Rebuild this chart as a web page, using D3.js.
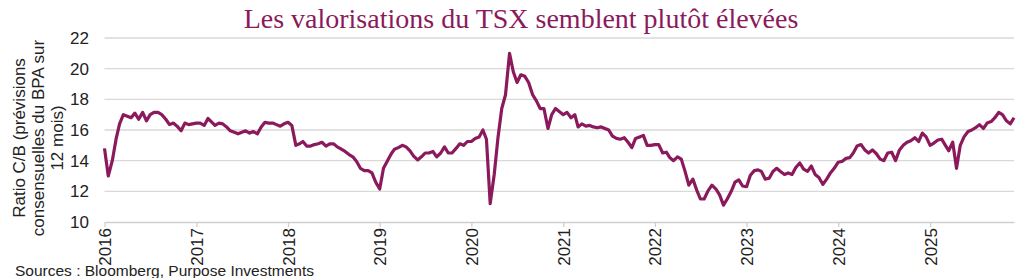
<!DOCTYPE html>
<html>
<head>
<meta charset="utf-8">
<script src="https://cdn.jsdelivr.net/npm/d3@7"></script>
<style>
  body { margin: 0; background: #fff; }
  svg { display: block; }
</style>
</head>
<body>
<div id="chart"></div>
<script>
// Texts
const title = "Les valorisations du TSX semblent plutôt élevées";
const yTitleLines = ["Ratio C/B (prévisions", "consensuelles du BPA sur", "12 mois)"];
const source = "Sources : Bloomberg, Purpose Investments";

// Axis ticks
const years = [2016, 2017, 2018, 2019, 2020, 2021, 2022, 2023, 2024, 2025];
const yTicks = [10, 12, 14, 16, 18, 20, 22];

// P/E ratio, read twice a month (1st and 16th) from the picture
const pe2016 = [14.8, 13.0, 14.0, 15.4, 16.4, 17.0, 16.9, 16.8, 17.1, 16.7, 17.15, 16.6, 17.0, 17.15, 17.15, 17.0, 16.7, 16.35, 16.45, 16.25, 15.95, 16.45, 16.35, 16.4];
const pe2017 = [16.45, 16.45, 16.3, 16.75, 16.55, 16.3, 16.45, 16.4, 16.2, 15.95, 15.85, 15.75, 15.85, 15.95, 15.8, 15.9, 15.75, 16.2, 16.5, 16.45, 16.45, 16.35, 16.25, 16.4];
const pe2018 = [16.5, 16.3, 15.0, 15.1, 15.25, 14.95, 14.95, 15.05, 15.1, 15.2, 14.95, 15.1, 15.1, 14.9, 14.75, 14.6, 14.4, 14.25, 13.95, 13.5, 13.35, 13.35, 13.2, 12.6];
const pe2019 = [12.15, 13.5, 14.0, 14.45, 14.75, 14.85, 15.0, 14.9, 14.65, 14.3, 14.05, 14.25, 14.5, 14.5, 14.6, 14.25, 14.5, 14.9, 14.5, 14.5, 14.8, 15.1, 15.0, 15.25];
const pe2020 = [15.25, 15.45, 15.55, 16.0, 15.4, 11.2, 13.1, 15.5, 17.4, 18.3, 21.0, 19.8, 19.1, 19.6, 19.5, 19.1, 18.3, 17.9, 17.4, 17.4, 16.1, 17.0, 17.4, 17.2];
const pe2021 = [17.0, 17.15, 16.8, 17.0, 16.2, 16.4, 16.25, 16.3, 16.2, 16.15, 16.2, 16.1, 16.0, 15.6, 15.45, 15.4, 15.5, 15.2, 14.85, 15.45, 15.55, 15.65, 15.0, 15.0];
const pe2022 = [15.05, 15.05, 14.5, 14.55, 14.2, 14.0, 14.25, 14.1, 13.3, 12.4, 12.8, 12.1, 11.5, 11.5, 12.05, 12.4, 12.15, 11.75, 11.1, 11.5, 12.0, 12.6, 12.75, 12.35];
const pe2023 = [12.3, 13.05, 13.35, 13.4, 13.3, 12.8, 12.85, 13.3, 13.5, 13.3, 13.1, 13.2, 13.1, 13.55, 13.85, 13.45, 13.3, 13.65, 13.1, 12.9, 12.45, 12.8, 13.2, 13.5];
const pe2024 = [13.9, 13.95, 14.15, 14.2, 14.5, 14.95, 15.05, 14.7, 14.5, 14.7, 14.45, 14.1, 14.0, 14.5, 14.55, 14.0, 14.7, 15.0, 15.2, 15.3, 15.5, 15.25, 15.8, 15.55];
const pe2025 = [15.0, 15.15, 15.35, 15.4, 15.05, 14.65, 15.2, 13.5, 15.0, 15.55, 15.9, 16.0, 16.15, 16.35, 16.1, 16.45, 16.55, 16.8, 17.15, 17.0, 16.6, 16.4, 16.8];

const peByYear = [pe2016, pe2017, pe2018, pe2019, pe2020, pe2021, pe2022, pe2023, pe2024, pe2025];

const data = [];
peByYear.forEach((vals, k) => {
  vals.forEach((v, i) => {
    data.push({ date: new Date(years[k], Math.floor(i / 2), i % 2 ? 16 : 1), value: v });
  });
});

const width = 1024, height = 278;
const plum = "#8b1a5c";
const grid = "#d9d9d9";
const sans = "'Liberation Sans', Arial, sans-serif";

const svg = d3.select("#chart").append("svg")
  .attr("width", width)
  .attr("height", height);

const x = d3.scaleTime()
  .domain([data[0].date, data[data.length - 1].date])
  .range([104.5, 1014]);

const y = d3.scaleLinear()
  .domain([10, 22])
  .range([222, 38]);

// Title
svg.append("text")
  .attr("x", 521)
  .attr("y", 28)
  .attr("text-anchor", "middle")
  .style("font-family", "'Liberation Serif', 'DejaVu Serif', serif")
  .style("font-size", "28px")
  .style("fill", plum)
  .text(title);

// Horizontal gridlines
svg.append("g")
  .selectAll("line")
  .data(yTicks.filter(d => d > 10))
  .join("line")
  .attr("x1", x.range()[0])
  .attr("x2", x.range()[1])
  .attr("y1", d => y(d))
  .attr("y2", d => y(d))
  .attr("stroke", grid)
  .attr("stroke-width", 1.3);

// Y axis labels
const yAxis = svg.append("g")
  .attr("transform", "translate(89,0)")
  .call(d3.axisLeft(y).tickValues(yTicks).tickSize(0).tickPadding(0));
yAxis.select(".domain").remove();
yAxis.selectAll("text")
  .style("font-family", sans)
  .style("font-size", "17px")
  .style("fill", "#222");

// X axis
const xAxis = svg.append("g")
  .attr("transform", `translate(0,${y(10)})`)
  .call(d3.axisBottom(x)
    .tickValues(years.map(yr => new Date(yr, 0, 1)))
    .tickFormat(d3.timeFormat("%Y"))
    .tickSize(5)
    .tickSizeOuter(0));
xAxis.select(".domain").attr("stroke", "#cfcfcf").attr("stroke-width", 1.3);
xAxis.selectAll(".tick line").attr("stroke", "#cfcfcf").attr("stroke-width", 1.3);
xAxis.selectAll("text")
  .attr("transform", "rotate(-90)")
  .attr("x", -6)
  .attr("y", 0)
  .attr("dy", "0.35em")
  .attr("text-anchor", "end")
  .style("font-family", sans)
  .style("font-size", "17px")
  .style("fill", "#222");

// Y axis title
const yTitle = svg.append("text")
  .attr("transform", "translate(0,138) rotate(-90)")
  .attr("text-anchor", "middle")
  .style("font-family", sans)
  .style("font-size", "17px")
  .style("fill", "#222");
yTitle.selectAll("tspan")
  .data(yTitleLines)
  .join("tspan")
  .attr("x", 0)
  .attr("y", (d, i) => 25 + i * 19)
  .text(d => d);

// Line
const line = d3.line()
  .x(d => x(d.date))
  .y(d => y(d.value));

svg.append("path")
  .datum(data)
  .attr("fill", "none")
  .attr("stroke", plum)
  .attr("stroke-width", 3.2)
  .attr("stroke-linejoin", "round")
  .attr("d", line);

// Source
svg.append("text")
  .attr("x", 15)
  .attr("y", 276)
  .style("font-family", sans)
  .style("font-size", "15.5px")
  .style("fill", "#222")
  .text(source);
</script>
</body>
</html>
